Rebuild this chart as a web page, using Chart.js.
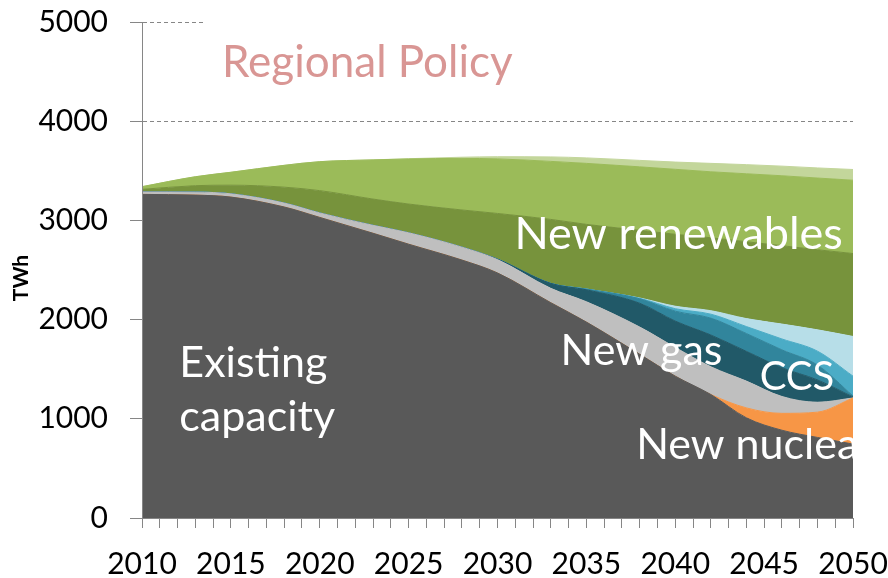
<!DOCTYPE html>
<html>
<head>
<meta charset="utf-8">
<script src="https://cdn.jsdelivr.net/npm/chart.js@4.4.0/dist/chart.umd.min.js"></script>
<style>
  html, body { margin: 0; padding: 0; background: #fff; }
</style>
</head>
<body>
<canvas id="myChart" width="888" height="578"></canvas>
<script>
// years, values are TWh per layer (stacked)
const years    = [2010, 2013, 2015, 2018, 2020, 2023, 2025, 2028, 2030, 2033, 2035, 2038, 2040, 2042, 2044, 2046, 2048, 2050];
const existing = [3262, 3255, 3235, 3135, 3030, 2870, 2760, 2600, 2470, 2170, 1975, 1650, 1430, 1245, 1010, 885, 812, 745];
const nuclear  = [0, 0, 0, 0, 0, 0, 0, 0, 0, 0, 0, 0, 0, 0, 100, 170, 255, 465];
const gas      = [25, 30, 33, 40, 45, 80, 115, 130, 135, 145, 205, 275, 290, 280, 270, 170, 100, 0];
const ccs1     = [0, 0, 0, 0, 0, 0, 0, 0, 5, 50, 120, 240, 265, 320, 300, 290, 225, 10];
const ccs2     = [0, 0, 0, 0, 0, 0, 0, 0, 0, 0, 8, 45, 100, 170, 180, 180, 150, 10];
const ccs3     = [0, 0, 0, 0, 0, 0, 0, 0, 0, 0, 0, 5, 25, 40, 70, 110, 140, 200];
const ccs4     = [0, 0, 0, 0, 0, 0, 0, 0, 0, 0, 0, 3, 25, 35, 80, 150, 215, 400];
const renew1   = [26, 65, 87, 160, 225, 265, 290, 375, 460, 645, 652, 682, 725, 735, 775, 790, 807, 836];
const renew2   = [27, 90, 130, 220, 292, 395, 454, 520, 550, 585, 615, 640, 655, 665, 685, 705, 723, 739];
const renew3   = [0, 0, 0, 0, 0, 0, 3, 12, 22, 45, 55, 65, 73, 85, 92, 97, 102, 108];
const yTicks   = [0, 1000, 2000, 3000, 4000, 5000];

const series = [
  ['Existing capacity', existing, '#595959'],
  ['New nuclear', nuclear, '#F79646'],
  ['New gas', gas, '#BFBFBF'],
  ['CCS 1', ccs1, '#215968'],
  ['CCS 2', ccs2, '#31859C'],
  ['CCS 3', ccs3, '#4BACC6'],
  ['CCS 4', ccs4, '#B7DEE8'],
  ['New renewables 1', renew1, '#77933C'],
  ['New renewables 2', renew2, '#9BBB59'],
  ['New renewables 3', renew3, '#C3D69B']
];

const datasets = series.map((s, i) => ({
  label: s[0],
  data: years.map((yr, j) => ({x: yr, y: s[1][j]})),
  backgroundColor: s[2],
  borderColor: s[2],
  borderWidth: 1,
  pointRadius: 0,
  fill: i === 0 ? 'origin' : '-1',
  cubicInterpolationMode: 'monotone'
}));

const FONT = 'Lato';

const labelPlugin = {
  id: 'areaLabels',
  beforeDraw(chart) {
    const c = chart.ctx;
    c.save();
    c.fillStyle = '#fff';
    c.fillRect(0, 0, chart.width, chart.height);
    c.restore();
  },
  afterDatasetsDraw(chart) {
    const {ctx, chartArea, scales: {x, y}} = chart;
    ctx.save();
    ctx.beginPath();
    ctx.rect(chartArea.left, chartArea.top, chartArea.right - chartArea.left, chartArea.bottom - chartArea.top);
    ctx.clip();
    ctx.fillStyle = '#ffffff';
    ctx.textAlign = 'left';
    ctx.textBaseline = 'alphabetic';
    ctx.font = '43px ' + FONT;
    ctx.fillText('Existing', x.getPixelForValue(2012.1), y.getPixelForValue(1420));
    ctx.fillText('capacity', x.getPixelForValue(2012.1), y.getPixelForValue(875));
    ctx.fillText('New gas', x.getPixelForValue(2033.55), y.getPixelForValue(1542));
    ctx.fillText('New nuclear', x.getPixelForValue(2037.8), y.getPixelForValue(595));
    ctx.font = '40px ' + FONT;
    ctx.fillText('CCS', x.getPixelForValue(2044.75), y.getPixelForValue(1290));
    ctx.font = '45px ' + FONT;
    ctx.fillText('New renewables', x.getPixelForValue(2030.95), y.getPixelForValue(2712));
    ctx.restore();
  },
  afterDraw(chart) {
    const {ctx, chartArea, scales: {x, y}} = chart;
    ctx.save();
    // title box sits over the top gridline
    ctx.fillStyle = '#ffffff';
    ctx.fillRect(x.getPixelForValue(2013.5), 4, chart.width, 96);
    ctx.fillStyle = '#D99694';
    ctx.font = '44px ' + FONT;
    ctx.textAlign = 'left';
    ctx.textBaseline = 'alphabetic';
    ctx.fillText('Regional Policy', x.getPixelForValue(2014.5), y.getPixelForValue(4450));
    // axis unit, rotated
    ctx.fillStyle = '#000';
    ctx.font = 'bold 21px ' + FONT;
    ctx.textAlign = 'center';
    ctx.textBaseline = 'middle';
    ctx.translate(21, (chartArea.top + chartArea.bottom) / 2 + 8);
    ctx.rotate(-Math.PI / 2);
    ctx.fillText('TWh', 0, 0);
    ctx.restore();
  }
};

const ctx = document.getElementById('myChart').getContext('2d');
let myChart = new Chart(ctx, {
  type: 'line',
  data: { datasets: datasets },
  plugins: [labelPlugin],
  options: {
    responsive: false,
    animation: false,
    devicePixelRatio: 1,
    layout: { padding: { top: 22, right: 35, left: 0, bottom: 0 } },
    plugins: { legend: { display: false }, tooltip: { enabled: false } },
    scales: {
      x: {
        type: 'linear',
        min: 2010,
        max: 2050,
        grid: { drawOnChartArea: false, tickLength: 10, color: '#868686' },
        border: { color: '#868686', z: 1 },
        ticks: {
          stepSize: 1,
          autoSkip: false,
          maxRotation: 0,
          padding: 18,
          color: '#000',
          font: { family: FONT, size: 30 },
          callback: v => (v % 5 === 0 ? String(v) : '')
        },
        afterFit: s => { s.height = 60; s.paddingLeft = 0; s.paddingRight = 0; }
      },
      y: {
        stacked: true,
        min: 0,
        max: 5000,
        afterBuildTicks: s => { s.ticks = yTicks.map(v => ({value: v})); },
        grid: { color: '#868686', tickLength: 12, tickColor: '#868686', tickBorderDash: [] },
        border: { color: '#868686', dash: [4, 3], z: 1 },
        ticks: { padding: 22, color: '#000', font: { family: FONT, size: 30 }, callback: v => String(v) },
        afterFit: s => { s.width = 142; s.paddingTop = 0; s.paddingBottom = 0; }
      }
    }
  }
});
</script>
</body>
</html>
